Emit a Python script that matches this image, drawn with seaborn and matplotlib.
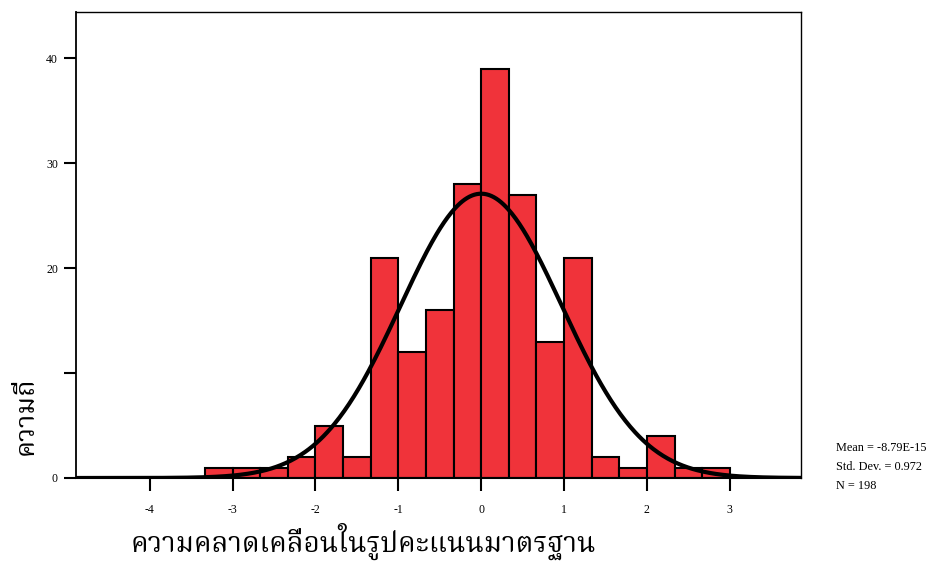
import numpy as np
import pandas as pd
import matplotlib
matplotlib.use("Agg")
import matplotlib.pyplot as plt
import seaborn as sns
from matplotlib import font_manager

# ---- data ----
bin_left = [-10/3, -3.0, -8/3, -7/3, -2.0, -5/3, -4/3, -1.0, -2/3, -1/3,
            0.0, 1/3, 2/3, 1.0, 4/3, 5/3, 2.0, 7/3, 8/3]
counts = [1, 1, 1, 2, 5, 2, 21, 12, 16, 28, 39, 27, 13, 21, 2, 1, 4, 1, 1]
bin_width = 1/3
mean_val = -8.79e-15
std_val = 0.972
n_val = 198
x_ticks = [-4, -3, -2, -1, 0, 1, 2, 3]
y_ticks = [0, 10, 20, 30, 40]
y_tick_labels = ["0", "", "20", "30", "40"]
stats_lines = ["Mean = -8.79E-15", "Std. Dev. = 0.972", "N = 198"]
x_label = "ความคลาดเคลื่อนในรูปคะแนนมาตรฐาน"
y_label = "ความถี่"

sns.set_style("white")
names = {f.name for f in font_manager.fontManager.ttflist}
thai_candidates = [f for f in ["Noto Serif Thai", "Noto Sans Thai", "Loma", "Garuda",
                               "Tlwg Typo", "Norasi", "Kinnari", "Sawasdee", "Waree"] if f in names]
thai_fams = thai_candidates + ["Liberation Serif", "DejaVu Sans"]
plt.rcParams["font.family"] = ["Liberation Serif", "DejaVu Serif"]
plt.rcParams["text.color"] = "black"
plt.rcParams["xtick.color"] = "black"
plt.rcParams["ytick.color"] = "black"

fig = plt.figure(figsize=(9.26, 5.62), dpi=100)
ax = fig.add_axes([76/926, 1 - 478/562, (801-76)/926, (478-12)/562])

edges = list(bin_left) + [bin_left[-1] + bin_width]
centers = [b + bin_width/2 for b in bin_left]
df = pd.DataFrame({"x": centers, "w": counts})
sns.histplot(data=df, x="x", weights="w", bins=edges, ax=ax,
             color="#F0333A", alpha=1.0, edgecolor="black", linewidth=1.5)

xs = np.linspace(-4.9, 3.9, 600)
ys = n_val * bin_width * np.exp(-0.5*((xs-mean_val)/std_val)**2) / (std_val*np.sqrt(2*np.pi))
sns.lineplot(x=xs, y=ys, ax=ax, color="black", linewidth=3.0)

ax.set_xlim(-4.89, 3.86)
ax.set_ylim(0, 44.4)
ax.set_xticks(x_ticks)
ax.set_xticklabels([str(t) for t in x_ticks])
ax.set_yticks(y_ticks)
ax.set_yticklabels(y_tick_labels)
ax.tick_params(axis="both", direction="out", length=9, width=1.5, labelsize=8.5,
               bottom=True, left=True, colors="black", labelcolor="black")
ax.tick_params(axis="x", pad=10)
ax.tick_params(axis="y", pad=4)
for s in ax.spines.values():
    s.set_color("black")
    s.set_linewidth(1.0)
ax.spines["bottom"].set_linewidth(1.5)
ax.spines["left"].set_linewidth(1.3)
ax.set_xlabel("")
ax.set_ylabel("")

fig.text(26/926, 1 - 416/562, y_label, rotation=90, ha="center", va="center",
         fontsize=19.5, family=thai_fams, color="black")
fig.text(363/926, 1 - 541/562, x_label, ha="center", va="center",
         fontsize=20, family=thai_fams, color="black")

for i, line in enumerate(stats_lines):
    fig.text(836/926, 1 - (448 + i*19)/562, line, ha="left", va="center",
             fontsize=8.8, color="black")

fig.savefig("out.png", dpi=100)
